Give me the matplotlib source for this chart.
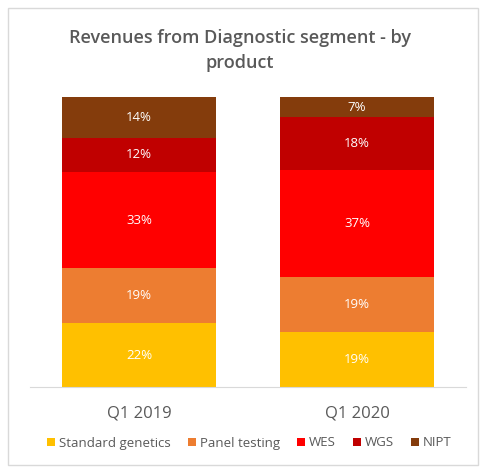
import matplotlib
matplotlib.use("Agg")
import matplotlib.pyplot as plt
from matplotlib.patches import Rectangle
import numpy as np

# ── Data ──────────────────────────────────────────────────────────────────────
quarters = ["Q1 2019", "Q1 2020"]
products = ["Standard genetics", "Panel testing", "WES", "WGS", "NIPT"]
share_2019 = [22, 19, 33, 12, 14]
share_2020 = [19, 19, 37, 18, 7]
colors = ["#FFC000", "#ED7D31", "#FF0000", "#C00000", "#843C0C"]

TEXT = "#595959"

plt.rcParams["font.family"] = ["Open Sans", "DejaVu Sans"]

fig = plt.figure(figsize=(4.8, 4.74), dpi=100)
fig.patches.append(Rectangle((8 / 480, 9 / 474), 470 / 480, 457 / 474,
                             transform=fig.transFigure, fill=False,
                             edgecolor="#d9d9d9", linewidth=1))

ax = fig.add_axes([30 / 480, 1 - 387 / 474, 436 / 480, 290 / 474])

data = np.array([share_2019, share_2020])
x = np.arange(len(quarters))
bottom = np.zeros(len(quarters))
for i, prod in enumerate(products):
    vals = data[:, i]
    ax.bar(x, vals, bottom=bottom, width=0.71, color=colors[i], label=prod)
    for xi, v, b in zip(x, vals, bottom):
        ax.text(xi, b + v / 2, f"{v}%", ha="center", va="center",
                color="white", fontsize=9.5)
    bottom += vals

ax.set_xlim(-0.5, 1.5)
ax.set_ylim(0, 100)
ax.set_yticks([])
ax.set_xticks(x)
ax.set_xticklabels(quarters, color=TEXT, fontsize=12)
ax.tick_params(axis="x", length=0, pad=13)
for s in ["top", "right", "left"]:
    ax.spines[s].set_visible(False)
ax.spines["bottom"].set_color("#d9d9d9")

fig.text(0.5, 1 - 38 / 474, "Revenues from Diagnostic segment - by",
         ha="center", va="center", color=TEXT, fontsize=13, weight="semibold")
fig.text(0.5, 1 - 63 / 474, "product",
         ha="center", va="center", color=TEXT, fontsize=13, weight="semibold")

fig.legend(*ax.get_legend_handles_labels(), loc="center",
           bbox_to_anchor=(0.52, 1 - 443 / 474), ncol=5, frameon=False,
           fontsize=9.5, labelcolor=TEXT, handlelength=0.6, handleheight=0.6,
           handletextpad=0.3, columnspacing=1.3)

fig.savefig("out.png", dpi=100, facecolor="white")
